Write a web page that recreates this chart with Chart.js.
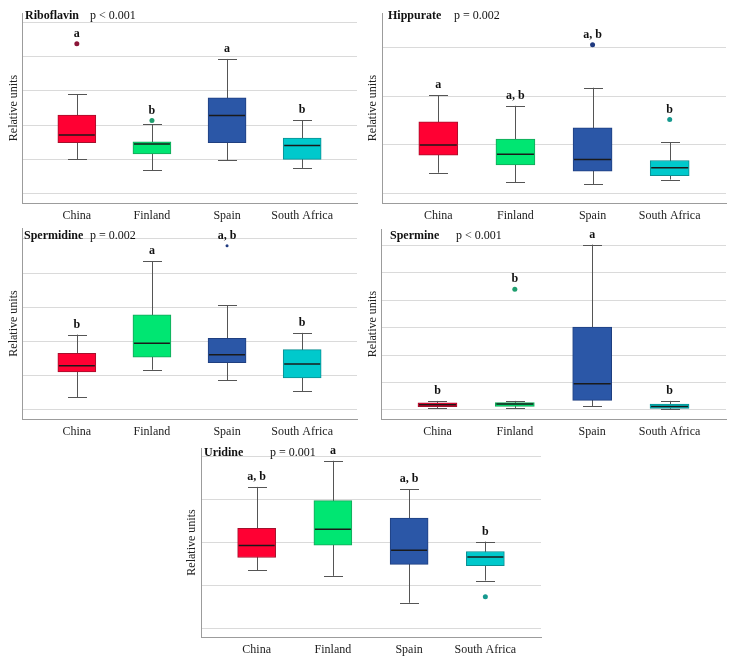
<!DOCTYPE html>
<html><head><meta charset="utf-8">
<script src="https://cdn.jsdelivr.net/npm/chart.js@4.4.1/dist/chart.umd.min.js"></script>
<style>
body{margin:0;background:#fff;width:734px;height:664px;position:relative;overflow:hidden;font-family:"Liberation Serif",serif}
canvas{position:absolute}
.t{position:absolute;font-size:12px;line-height:14px;white-space:nowrap;color:#111}
.t.b{font-weight:bold}
</style></head><body>
<canvas id="c1" width="367" height="225" style="left:0;top:0"></canvas>
<canvas id="c2" width="372" height="225" style="left:362px;top:0"></canvas>
<canvas id="c3" width="367" height="225" style="left:0;top:220px"></canvas>
<canvas id="c4" width="372" height="225" style="left:362px;top:220px"></canvas>
<canvas id="c5" width="372" height="229" style="left:175px;top:435px"></canvas>
<script>
// ---- data ----
const categories = ['China', 'Finland', 'Spain', 'South Africa'];

const riboflavinLow = [1.00, 0.67, 0.96, 0.74];
const riboflavinQ1 = [1.48, 1.15, 1.48, 0.99];
const riboflavinMedian = [1.71, 1.44, 2.28, 1.40];
const riboflavinQ3 = [2.29, 1.51, 2.80, 1.62];
const riboflavinHigh = [2.90, 2.02, 3.94, 2.14];
const riboflavinOutliers = [[4.39], [2.13], [], []];
const riboflavinLetters = ['a', 'b', 'a', 'b'];
const riboflavinGrid = [0, 1, 2, 3, 4, 5];

const hippurateLow = [0.43, 0.24, 0.19, 0.29];
const hippurateQ1 = [0.79, 0.59, 0.46, 0.37];
const hippurateMedian = [1.00, 0.81, 0.70, 0.53];
const hippurateQ3 = [1.47, 1.12, 1.35, 0.68];
const hippurateHigh = [2.02, 1.80, 2.17, 1.05];
const hippurateOutliers = [[], [], [3.05], [1.52]];
const hippurateLetters = ['a', 'a, b', 'a, b', 'b'];
const hippurateGrid = [0, 1, 2, 3];

const spermidineLow = [0.36, 1.17, 0.86, 0.54];
const spermidineQ1 = [1.11, 1.54, 1.38, 0.93];
const spermidineMedian = [1.29, 1.95, 1.61, 1.34];
const spermidineQ3 = [1.65, 2.78, 2.09, 1.76];
const spermidineHigh = [2.20, 4.35, 3.06, 2.25];
const spermidineOutliers = [[], [], [4.80], []];
const spermidineLetters = ['b', 'a', 'a, b', 'b'];
const spermidineGrid = [0, 1, 2, 3, 4, 5];

const spermineLow = [0.07, 0.07, 0.13, 0.02];
const spermineQ1 = [0.12, 0.13, 0.35, 0.06];
const spermineMedian = [0.19, 0.22, 0.96, 0.13];
const spermineQ3 = [0.26, 0.27, 3.02, 0.21];
const spermineHigh = [0.33, 0.33, 6.03, 0.33];
const spermineOutliers = [[], [4.40], [], []];
const spermineLetters = ['b', 'b', 'a', 'b'];
const spermineGrid = [0, 1, 2, 3, 4, 5, 6];

const uridineLow = [1.35, 1.22, 0.59, 1.11];
const uridineQ1 = [1.65, 1.94, 1.49, 1.46];
const uridineMedian = [1.93, 2.31, 1.82, 1.66];
const uridineQ3 = [2.33, 2.98, 2.57, 1.79];
const uridineHigh = [3.30, 3.91, 3.25, 2.02];
const uridineOutliers = [[], [], [], [0.73]];
const uridineLetters = ['a, b', 'a', 'a, b', 'b'];
const uridineGrid = [0, 1, 2, 3, 4];

const panelNames = ['Riboflavin', 'Hippurate', 'Spermidine', 'Spermine', 'Uridine'];
const panelP = ['p < 0.001', 'p = 0.002', 'p = 0.002', 'p < 0.001', 'p = 0.001'];

// ---- styles ----
const boxFill = ['#ff0033', '#00e672', '#2b57a7', '#00c9cc'];
const boxEdge = ['#a3112c', '#17a35a', '#1f3f80', '#0a8f92'];
const outlierColor = ['#8b1538', '#1e9e6e', '#1f3a80', '#16998f'];
const FONT = '"Liberation Serif", serif';

const boxParts = {
  id: 'boxparts',
  beforeDatasetsDraw(chart) {
    const o = chart.options.plugins.boxparts;
    const {ctx, scales: {x, y}} = chart;
    ctx.save();
    ctx.strokeStyle = '#555';
    ctx.lineWidth = 1;
    o.low.forEach((lo, i) => {
      const px = Math.round(x.getPixelForValue(i + 1)) + 0.5;
      const pl = y.getPixelForValue(lo), ph = y.getPixelForValue(o.high[i]);
      ctx.beginPath();
      ctx.moveTo(px, pl); ctx.lineTo(px, ph);
      ctx.moveTo(px - o.cap / 2, Math.round(pl) + 0.5); ctx.lineTo(px + o.cap / 2, Math.round(pl) + 0.5);
      ctx.moveTo(px - o.cap / 2, Math.round(ph) + 0.5); ctx.lineTo(px + o.cap / 2, Math.round(ph) + 0.5);
      ctx.stroke();
    });
    ctx.restore();
  },
  afterDatasetsDraw(chart) {
    const o = chart.options.plugins.boxparts;
    const {ctx, scales: {x, y}} = chart;
    ctx.save();
    ctx.strokeStyle = '#1a1a1a';
    ctx.lineWidth = 1.5;
    o.med.forEach((m, i) => {
      const px = x.getPixelForValue(i + 1);
      const py = y.getPixelForValue(m);
      ctx.beginPath();
      ctx.moveTo(px - o.w / 2 + 1, py); ctx.lineTo(px + o.w / 2 - 1, py);
      ctx.stroke();
    });
    ctx.fillStyle = '#111';
    ctx.font = 'bold 12px ' + FONT;
    ctx.textAlign = 'center';
    ctx.textBaseline = 'middle';
    o.letters.forEach((L, i) => {
      const tops = [o.high[i]].concat(o.outliers[i]);
      const top = Math.min(...tops.map(v => y.getPixelForValue(v)));
      ctx.fillText(L, x.getPixelForValue(i + 1), top - 10);
    });
    ctx.restore();
  }
};

function makePanel(id, d, st) {
  const el = document.getElementById(id);
  const W = el.width, H = el.height;
  const pts = [], pcols = [];
  d.outliers.forEach((arr, i) => arr.forEach(v => { pts.push({x: i + 1, y: v}); pcols.push(outlierColor[i]); }));
  new Chart(el, {
    type: 'bar',
    data: {
      datasets: [
        {
          type: 'bar',
          data: d.q1.map((q, i) => ({x: i + 1, y: [q, d.q3[i]]})),
          backgroundColor: boxFill,
          borderColor: boxEdge,
          borderWidth: 1,
          borderSkipped: false,
          barThickness: st.w
        },
        {
          type: 'scatter',
          data: pts,
          pointRadius: st.pr,
          pointBackgroundColor: pcols,
          pointBorderColor: pcols,
          pointBorderWidth: 0
        }
      ]
    },
    options: {
      responsive: false,
      animation: false,
      devicePixelRatio: 1,
      layout: {padding: {left: 0, right: W - st.r, top: st.t, bottom: 0}},
      plugins: {
        legend: {display: false},
        tooltip: {enabled: false},
        boxparts: {low: d.low, high: d.high, med: d.med, letters: d.letters, outliers: d.outliers, cap: 19, w: st.w}
      },
      scales: {
        x: {
          type: 'linear',
          min: 0.27, max: 4.73,
          offset: false,
          afterBuildTicks: s => { s.ticks = categories.map((c, i) => ({value: i + 1})); },
          afterFit: s => { s.height = H - st.b; },
          ticks: {
            autoSkip: false, maxRotation: 0, padding: 6,
            color: '#222', font: {family: FONT, size: 12},
            callback: v => categories[v - 1]
          },
          grid: {display: false, drawTicks: false},
          border: {display: true, color: '#9c9c9c', width: 1}
        },
        y: {
          type: 'linear',
          min: st.ymin, max: st.ymax,
          afterBuildTicks: s => { s.ticks = d.grid.map(v => ({value: v})); },
          afterFit: s => { s.width = st.l; },
          ticks: {display: false},
          grid: {color: '#dadada', lineWidth: 1, drawTicks: false},
          border: {display: true, color: '#9c9c9c', width: 1},
          title: {display: true, text: 'Relative units', color: '#222', font: {family: FONT, size: 12}, padding: {top: st.tp, bottom: 0}}
        }
      }
    },
    plugins: [boxParts]
  });
}

makePanel('c1', {low: riboflavinLow, q1: riboflavinQ1, med: riboflavinMedian, q3: riboflavinQ3, high: riboflavinHigh, outliers: riboflavinOutliers, letters: riboflavinLetters, grid: riboflavinGrid},
  {l: 22, r: 357, t: 13, b: 203, ymin: -0.29, ymax: 5.29, w: 38, pr: 2.5, tp: 7});
makePanel('c2', {low: hippurateLow, q1: hippurateQ1, med: hippurateMedian, q3: hippurateQ3, high: hippurateHigh, outliers: hippurateOutliers, letters: hippurateLetters, grid: hippurateGrid},
  {l: 20, r: 364, t: 13, b: 203, ymin: -0.19, ymax: 3.70, w: 39, pr: 2.5, tp: 3.5});
makePanel('c3', {low: spermidineLow, q1: spermidineQ1, med: spermidineMedian, q3: spermidineQ3, high: spermidineHigh, outliers: spermidineOutliers, letters: spermidineLetters, grid: spermidineGrid},
  {l: 22, r: 357, t: 8, b: 199, ymin: -0.27, ymax: 5.32, w: 38, pr: 1.5, tp: 7});
makePanel('c4', {low: spermineLow, q1: spermineQ1, med: spermineMedian, q3: spermineQ3, high: spermineHigh, outliers: spermineOutliers, letters: spermineLetters, grid: spermineGrid},
  {l: 19, r: 364, t: 9, b: 199, ymin: -0.33, ymax: 6.6, w: 39, pr: 2.5, tp: 3.5});
makePanel('c5', {low: uridineLow, q1: uridineQ1, med: uridineMedian, q3: uridineQ3, high: uridineHigh, outliers: uridineOutliers, letters: uridineLetters, grid: uridineGrid},
  {l: 26, r: 366, t: 13, b: 202, ymin: -0.21, ymax: 4.21, w: 38, pr: 2.5, tp: 10});

// panel titles
const titlePos = [[25, 90, 8], [388, 454, 8], [24, 90, 228], [390, 456, 228], [204, 270, 445]];
titlePos.forEach((p, i) => {
  const a = document.createElement('div'); a.className = 't b'; a.textContent = panelNames[i];
  a.style.left = p[0] + 'px'; a.style.top = p[2] + 'px'; document.body.appendChild(a);
  const b = document.createElement('div'); b.className = 't'; b.textContent = panelP[i];
  b.style.left = p[1] + 'px'; b.style.top = p[2] + 'px'; document.body.appendChild(b);
});
</script>
</body></html>
